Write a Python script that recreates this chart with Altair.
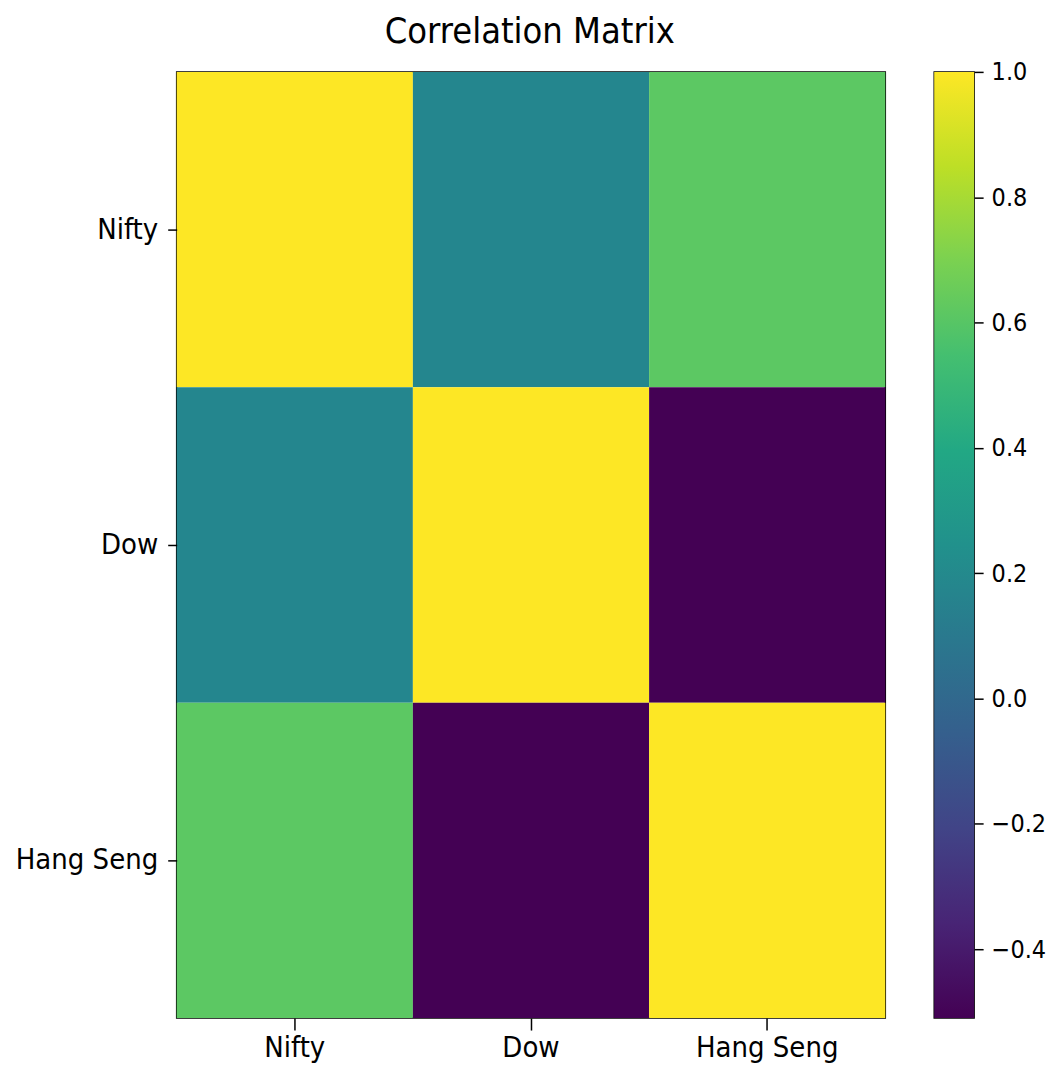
import altair as alt
import pandas as pd

# Data
labels = ["Nifty", "Dow", "Hang Seng"]
row_nifty = [1.0, 0.18, 0.62]
row_dow = [0.18, 1.0, -0.51]
row_hang = [0.62, -0.51, 1.0]
color_min = -0.51
color_max = 1.0
cbar_ticks = [-0.4, -0.2, 0.0, 0.2, 0.4, 0.6, 0.8, 1.0]

rows = []
for rname, vals in zip(labels, [row_nifty, row_dow, row_hang]):
    for cname, v in zip(labels, vals):
        rows.append({"row": rname, "col": cname, "value": v})
df = pd.DataFrame(rows)

FONT = "DejaVu Sans Condensed"

heat = alt.Chart(df).mark_rect().encode(
    x=alt.X("col:N", sort=labels, title=None,
            axis=alt.Axis(labelAngle=0, domain=False, tickSize=12, tickColor="black",
                          tickWidth=1.5, labelPadding=4, labelFontSize=29,
                          labelColor="black", labelFont=FONT)),
    y=alt.Y("row:N", sort=labels, title=None,
            axis=alt.Axis(domain=False, tickSize=9, tickColor="black", tickWidth=1.5,
                          labelPadding=10, labelFontSize=29, labelColor="black",
                          labelFont=FONT, minExtent=163, maxExtent=163)),
    color=alt.Color("value:Q",
                    scale=alt.Scale(scheme="viridis", domain=[color_min, color_max]),
                    legend=None),
).properties(width=710, height=948)

viridis_stops = ["#440154", "#482475", "#414487", "#355f8d", "#2a788e", "#21918c",
                 "#22a884", "#44bf70", "#7ad151", "#bddf26", "#fde725"]
gradient = alt.LinearGradient(
    gradient="linear",
    stops=[alt.GradientStop(color=c, offset=i / (len(viridis_stops) - 1))
           for i, c in enumerate(viridis_stops)],
    x1=0, x2=0, y1=1, y2=0,
)

cbar = alt.Chart(alt.Data(values=[{"lo": color_min, "hi": color_max}])).mark_rect(
    color=gradient
).encode(
    y=alt.Y("lo:Q", title=None,
            scale=alt.Scale(domain=[color_min, color_max], nice=False, zero=False),
            axis=alt.Axis(orient="right", values=cbar_ticks, format=".1f", domain=False,
                          grid=False, tickSize=9, tickColor="black", tickWidth=1.5,
                          labelPadding=8, labelFontSize=25, labelColor="black",
                          labelFont=FONT)),
    y2="hi:Q",
    x=alt.value(0),
    x2=alt.value(40),
).properties(width=40, height=948)

chart = alt.hconcat(heat, cbar, spacing=47).properties(
    title=alt.TitleParams("Correlation Matrix", fontSize=36, font=FONT,
                          fontWeight="normal", color="black", anchor="middle", offset=8),
    padding={"left": 5, "top": 5, "right": 0, "bottom": 0},
).configure_view(stroke="black", strokeWidth=1.5)

chart.save("out.html", embed_options={"renderer": "svg", "actions": False})
